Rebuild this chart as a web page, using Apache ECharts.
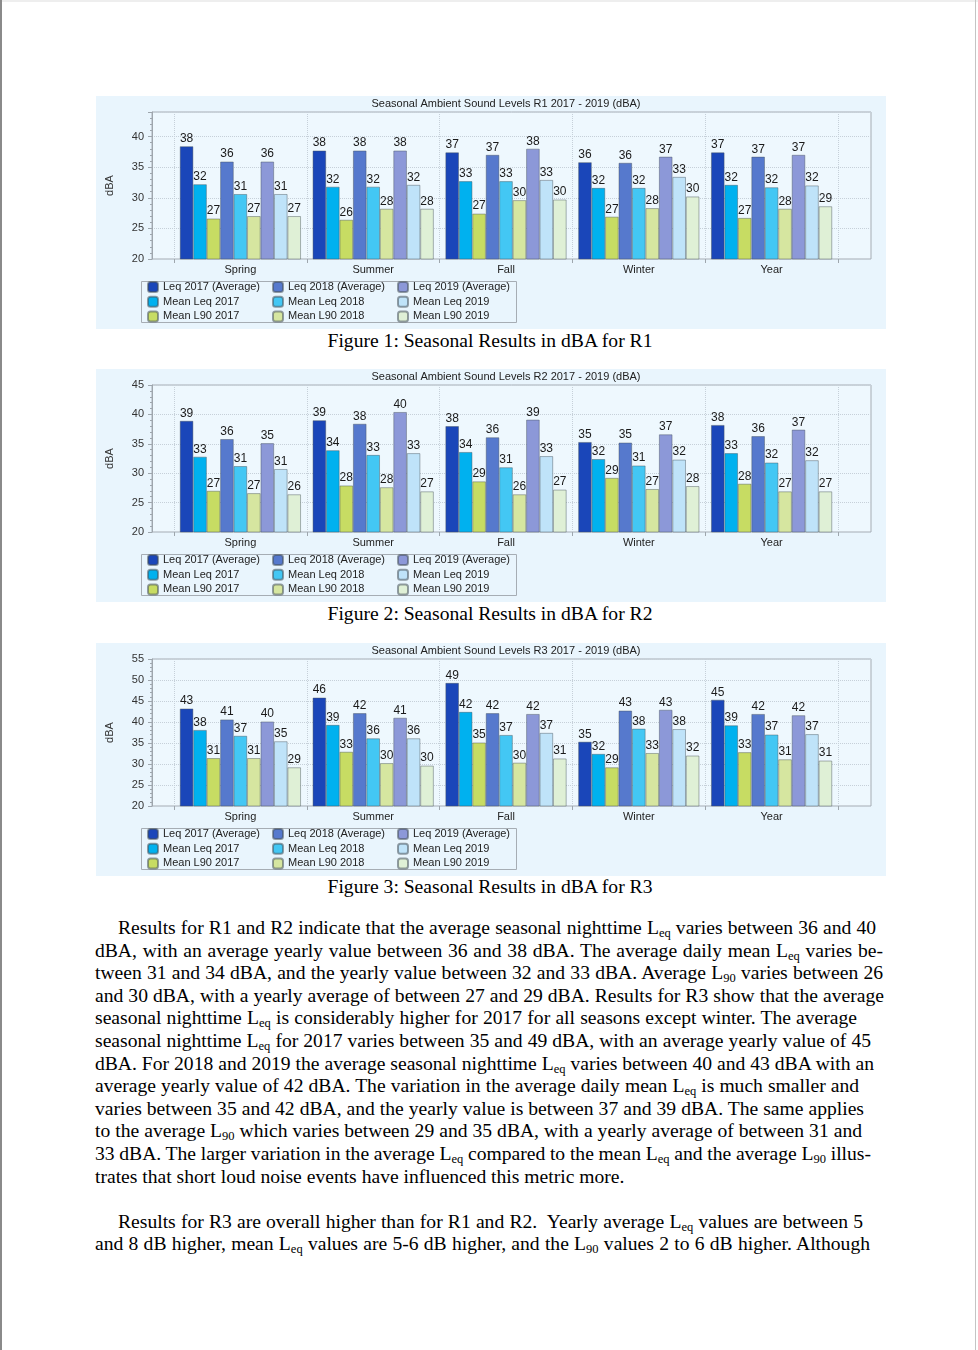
<!DOCTYPE html>
<html>
<head>
<meta charset="utf-8">
<script src="https://cdn.jsdelivr.net/npm/echarts@6/dist/echarts.min.js"></script>
<style>
  html, body { margin:0; padding:0; }
  body { width:978px; height:1350px; position:relative; background:#fff; overflow:hidden; }
  .chart { position:absolute; left:96px; width:790px; height:233px; }
  .cap { position:absolute; left:95px; width:790px; text-align:center; font-family:"Liberation Serif","Times New Roman",serif; font-size:19.6px; line-height:22.6px; color:#000; }
  .para { position:absolute; left:95px; width:800px; font-family:"Liberation Serif","Times New Roman",serif; font-size:19.6px; line-height:22.6px; color:#000; }
  .jl { text-align:justify; text-align-last:justify; white-space:normal; }
  .ll { text-align:left; }
  .ind { text-indent:23px; }
  sub { font-size:12.5px; line-height:0; vertical-align:-3px; }
</style>
</head>
<body>
<div style="position:absolute;left:0;top:0;width:978px;height:2px;background:#eeeeee"></div>
<div style="position:absolute;left:0;top:0;width:2px;height:1350px;background:#8a8a8a"></div>
<div style="position:absolute;left:975px;top:0;width:1px;height:1350px;background:#c4c4c4"></div>

<div id="c1" class="chart" style="top:96px"></div>
<div class="cap" style="top:330px">Figure 1: Seasonal Results in dBA for R1</div>
<div id="c2" class="chart" style="top:369px"></div>
<div class="cap" style="top:603px">Figure 2: Seasonal Results in dBA for R2</div>
<div id="c3" class="chart" style="top:643px"></div>
<div class="cap" style="top:876px">Figure 3: Seasonal Results in dBA for R3</div>

<div class="para" style="top:917px">
<div class="jl ind" style="width:781px">Results for R1 and R2 indicate that the average seasonal nighttime L<sub>eq</sub> varies between 36 and 40</div>
<div class="jl" style="width:788px">dBA, with an average yearly value between 36 and 38 dBA. The average daily mean L<sub>eq</sub> varies be-</div>
<div class="jl" style="width:788px">tween 31 and 34 dBA, and the yearly value between 32 and 33 dBA. Average L<sub>90</sub> varies between 26</div>
<div class="jl" style="width:789px">and 30 dBA, with a yearly average of between 27 and 29 dBA. Results for R3 show that the average</div>
<div class="jl" style="width:762px">seasonal nighttime L<sub>eq</sub> is considerably higher for 2017 for all seasons except winter. The average</div>
<div class="jl" style="width:776px">seasonal nighttime L<sub>eq</sub> for 2017 varies between 35 and 49 dBA, with an average yearly value of 45</div>
<div class="jl" style="width:779px">dBA. For 2018 and 2019 the average seasonal nighttime L<sub>eq</sub> varies between 40 and 43 dBA with an</div>
<div class="jl" style="width:764px">average yearly value of 42 dBA. The variation in the average daily mean L<sub>eq</sub> is much smaller and</div>
<div class="jl" style="width:769px">varies between 35 and 42 dBA, and the yearly value is between 37 and 39 dBA. The same applies</div>
<div class="jl" style="width:767px">to the average L<sub>90</sub> which varies between 29 and 35 dBA, with a yearly average of between 31 and</div>
<div class="jl" style="width:776px;word-spacing:-2px">33 dBA. The larger variation in the average L<sub>eq</sub> compared to the mean L<sub>eq</sub> and the average L<sub>90</sub> illus-</div>
<div class="ll">trates that short loud noise events have influenced this metric more.</div>
<div class="ll">&nbsp;</div>
<div class="jl ind" style="width:768px">Results for R3 are overall higher than for R1 and R2.&nbsp; Yearly average L<sub>eq</sub> values are between 5</div>
<div class="jl" style="width:775px">and 8 dB higher, mean L<sub>eq</sub> values are 5-6 dB higher, and the L<sub>90</sub> values 2 to 6 dB higher. Although</div>
</div>

<script>
// ---------- DATA ----------
const CATEGORIES = ['Spring', 'Summer', 'Fall', 'Winter', 'Year'];
const SERIES_NAMES = [
  'Leq 2017 (Average)', 'Mean Leq 2017', 'Mean L90 2017',
  'Leq 2018 (Average)', 'Mean Leq 2018', 'Mean L90 2018',
  'Leq 2019 (Average)', 'Mean Leq 2019', 'Mean L90 2019'
];
const TITLES = [
  'Seasonal Ambient Sound Levels R1 2017 - 2019 (dBA)',
  'Seasonal Ambient Sound Levels R2 2017 - 2019 (dBA)',
  'Seasonal Ambient Sound Levels R3 2017 - 2019 (dBA)'
];
const Y_MIN = 20;
const Y_STEP = 5;
const Y_MAX = [44, 45, 55];
const Y_NAME = 'dBA';

// R1
const R1_LEQ_2017      = [38.4, 37.7, 37.4, 35.8, 37.4];
const R1_MEANLEQ_2017  = [32.2, 31.8, 32.7, 31.6, 32.1];
const R1_L90_2017      = [26.6, 26.4, 27.4, 26.9, 26.7];
const R1_LEQ_2018      = [35.9, 37.7, 37.0, 35.7, 36.7];
const R1_MEANLEQ_2018  = [30.6, 31.8, 32.7, 31.6, 31.7];
const R1_L90_2018      = [27.0, 28.2, 29.6, 28.3, 28.2];
const R1_LEQ_2019      = [35.9, 37.7, 38.0, 36.7, 37.0];
const R1_MEANLEQ_2019  = [30.6, 32.1, 32.9, 33.4, 32.0];
const R1_L90_2019      = [27.0, 28.2, 29.7, 30.2, 28.6];
// R2
const R2_LEQ_2017      = [38.9, 39.0, 38.0, 35.3, 38.2];
const R2_MEANLEQ_2017  = [32.8, 33.9, 33.6, 32.4, 33.4];
const R2_L90_2017      = [27.0, 27.9, 28.6, 29.2, 28.2];
const R2_LEQ_2018      = [35.8, 38.4, 36.1, 35.2, 36.3];
const R2_MEANLEQ_2018  = [31.2, 33.1, 31.0, 31.3, 31.8];
const R2_L90_2018      = [26.6, 27.6, 26.4, 27.3, 26.9];
const R2_LEQ_2019      = [35.1, 40.4, 39.1, 36.6, 37.4];
const R2_MEANLEQ_2019  = [30.7, 33.4, 32.9, 32.3, 32.2];
const R2_L90_2019      = [26.4, 26.9, 27.2, 27.8, 26.9];
// R3
const R3_LEQ_2017      = [43.2, 45.8, 49.3, 35.3, 45.3];
const R3_MEANLEQ_2017  = [38.1, 39.3, 42.4, 32.4, 39.2];
const R3_L90_2017      = [31.4, 32.9, 35.1, 29.2, 32.8];
const R3_LEQ_2018      = [40.6, 42.1, 42.1, 42.7, 41.9];
const R3_MEANLEQ_2018  = [36.7, 36.1, 36.9, 38.4, 37.0];
const R3_L90_2018      = [31.4, 30.2, 30.3, 32.6, 31.1];
const R3_LEQ_2019      = [40.1, 41.0, 41.9, 42.9, 41.6];
const R3_MEANLEQ_2019  = [35.4, 36.1, 37.4, 38.3, 37.1];
const R3_L90_2019      = [29.2, 29.6, 31.3, 32.0, 30.8];

// ---------- STYLE ----------
const COLORS = ['#1a46b9', '#00b1ef', '#c7dc63', '#5679cd', '#43c7f4', '#d6e6a0', '#8c98d8', '#bfe3f9', '#dff0d6'];
const FONT = '"Liberation Sans", Arial, Helvetica, sans-serif';
const AXIS_C = '#9ea6ad';
const GRID_C = '#c6d0d9';

function buildOption(title, values, yMax) {
  const series = SERIES_NAMES.map((name, i) => ({
    type: 'bar', name, xAxisIndex: 1, yAxisIndex: 1, data: values[i],
    barGap: '0%', barCategoryGap: '8.8%',
    itemStyle: { color: COLORS[i], borderColor: 'rgba(70,80,90,0.55)', borderWidth: 0.8 },
    label: { show: true, position: 'top', distance: 1.5, fontSize: 12, color: '#1a1a1a', fontFamily: FONT,
             formatter: p => Math.round(p.value) },
    animation: false
  }));
  return {
    animation: false,
    backgroundColor: '#e9f5fd',
    textStyle: { fontFamily: FONT },
    grid: [
      { left: 45, top: 16, width: 730, height: 147, show: true, backgroundColor: '#eef8fe',
        borderColor: '#a6adb4', borderWidth: 1, containLabel: false },
      { left: 78, top: 16, width: 664, height: 147, containLabel: false }
    ],
    xAxis: [
      { gridIndex: 0, type: 'value', min: 0, max: 1, show: false },
      { gridIndex: 1, type: 'category', data: CATEGORIES,
        axisLine: { show: false },
        axisTick: { show: true, length: 4, lineStyle: { color: AXIS_C } },
        axisLabel: { fontSize: 11, color: '#222', margin: 5, fontFamily: FONT, interval: 0 },
        splitLine: { show: true, lineStyle: { type: 'dotted', color: GRID_C } } }
    ],
    yAxis: [
      { gridIndex: 0, type: 'value', min: Y_MIN, max: yMax, interval: Y_STEP,
        name: Y_NAME, nameLocation: 'middle', nameGap: 37, nameRotate: 90,
        nameTextStyle: { fontSize: 11, color: '#333', fontFamily: FONT },
        axisLine: { show: true, lineStyle: { color: AXIS_C } },
        axisTick: { show: true, length: 4, lineStyle: { color: AXIS_C } },
        minorTick: { show: true, splitNumber: 5, length: 2, lineStyle: { color: AXIS_C } },
        axisLabel: { fontSize: 11, color: '#333', margin: 8, fontFamily: FONT,
                     formatter: v => (v % Y_STEP === 0 ? String(v) : '') },
        splitLine: { show: true, lineStyle: { type: 'dotted', color: GRID_C } } },
      { gridIndex: 1, type: 'value', min: Y_MIN, max: yMax, show: false }
    ],
    legend: [0, 1, 2].map(c => ({
      orient: 'vertical', left: [51, 176, 301][c], top: 185, padding: 0,
      itemWidth: 10, itemHeight: 10, itemGap: 2.7, icon: 'roundRect', selectedMode: false,
      data: SERIES_NAMES.slice(c * 3, c * 3 + 3),
      textStyle: { fontSize: 11, color: '#222', fontFamily: FONT }
    })),
    graphic: [
      { type: 'rect', left: 45, top: 185, shape: { width: 375, height: 41 },
        style: { fill: 'rgba(0,0,0,0)', stroke: '#a6adb4', lineWidth: 1 }, silent: true },
      { type: 'text', x: 410, y: 8,
        style: { text: title, fontSize: 11, fill: '#222', align: 'center', verticalAlign: 'middle', fontFamily: FONT } }
    ],
    series
  };
}

const DATASETS = [
  [R1_LEQ_2017, R1_MEANLEQ_2017, R1_L90_2017, R1_LEQ_2018, R1_MEANLEQ_2018, R1_L90_2018, R1_LEQ_2019, R1_MEANLEQ_2019, R1_L90_2019],
  [R2_LEQ_2017, R2_MEANLEQ_2017, R2_L90_2017, R2_LEQ_2018, R2_MEANLEQ_2018, R2_L90_2018, R2_LEQ_2019, R2_MEANLEQ_2019, R2_L90_2019],
  [R3_LEQ_2017, R3_MEANLEQ_2017, R3_L90_2017, R3_LEQ_2018, R3_MEANLEQ_2018, R3_L90_2018, R3_LEQ_2019, R3_MEANLEQ_2019, R3_L90_2019]
];

['c1', 'c2', 'c3'].forEach((id, k) => {
  const chart = echarts.init(document.getElementById(id), null, { renderer: 'canvas' });
  chart.setOption(buildOption(TITLES[k], DATASETS[k], Y_MAX[k]));
});
</script>
</body>
</html>
